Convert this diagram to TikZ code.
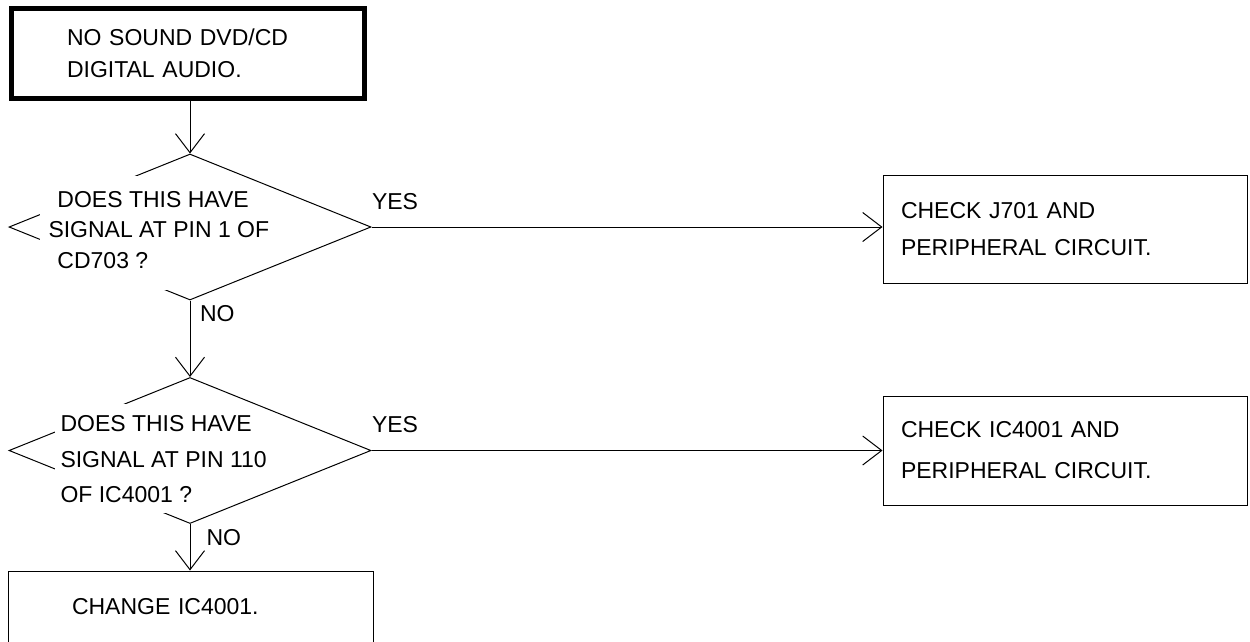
\documentclass[tikz,border=0pt]{standalone}
\usepackage{fontspec}
\setmainfont{Liberation Sans}
\usetikzlibrary{arrows.meta,shapes.geometric}

\begin{document}
\begin{tikzpicture}[
  x=1pt,y=-1pt,
  font=\fontsize{23}{30.5}\selectfont,
  every path/.style={line width=1pt},
  startbox/.style={draw,line width=5pt,minimum width=353pt,minimum height=90pt,text width=241pt,align=left},
  checkbox/.style={draw,minimum width=364pt,minimum height=108pt,text width=328pt,align=left},
  decision/.style={diamond,draw,inner sep=0pt,minimum width=362pt,minimum height=146pt},
  question/.style={anchor=north west,inner sep=0pt,align=left},
  yes/.style={anchor=south west,inner sep=0pt,yshift=17pt},
  no/.style={anchor=north west,inner sep=0pt},
  arrow/.style={-{Straight Barb[length=19pt,width=29pt]}}
]
  \useasboundingbox (0,0) rectangle (1250,641);

  \node[startbox] (start) at (187.5,53.5) {NO SOUND DVD/CD\\[1.5pt]DIGITAL AUDIO.};

  % first question
  \node[decision] (d1) at (190,227) {};
  \fill[white] (40,176) rectangle (212,290);
  \node[question] (q1) at (48,190.5)
    {\hspace*{9pt}DOES THIS HAVE\\SIGNAL AT PIN 1 OF\\\hspace*{9pt}CD703 ?};
  \node[checkbox] (chk1) at (1065,229) {CHECK J701 AND\\[6.5pt]PERIPHERAL CIRCUIT.};

  % second question
  \node[decision] (d2) at (190,450.5) {};
  \fill[white] (55,404) rectangle (212,513);
  \node[question] (q2) at (60,415)
    {DOES THIS HAVE\\[5pt]SIGNAL AT PIN 110\\[5pt]OF IC4001 ?};
  \node[checkbox,minimum height=109pt] (chk2) at (1065,450.5) {CHECK IC4001 AND\\[10.5pt]PERIPHERAL CIRCUIT.};

  \node[draw,minimum width=365pt,minimum height=72pt,text width=237pt,align=left] (change) at (190.5,607) {CHANGE IC4001.};

  \draw[arrow] (start.south -| d1.north) -- (d1.north);
  \draw[arrow] (d1.east) -- (d1.east -| chk1.west) node[yes,pos=0] {YES};
  \draw[arrow] (d1.south) -- (d2.north) node[no,pos=0,xshift=9.5pt,yshift=-4.5pt] {NO};
  \draw[arrow] (d2.east) -- (chk2.west) node[yes,pos=0] {YES};
  \draw[arrow] (d2.south) -- (d2.south |- change.north) node[no,pos=0,xshift=16pt,yshift=-4.5pt] {NO};
\end{tikzpicture}
\end{document}
